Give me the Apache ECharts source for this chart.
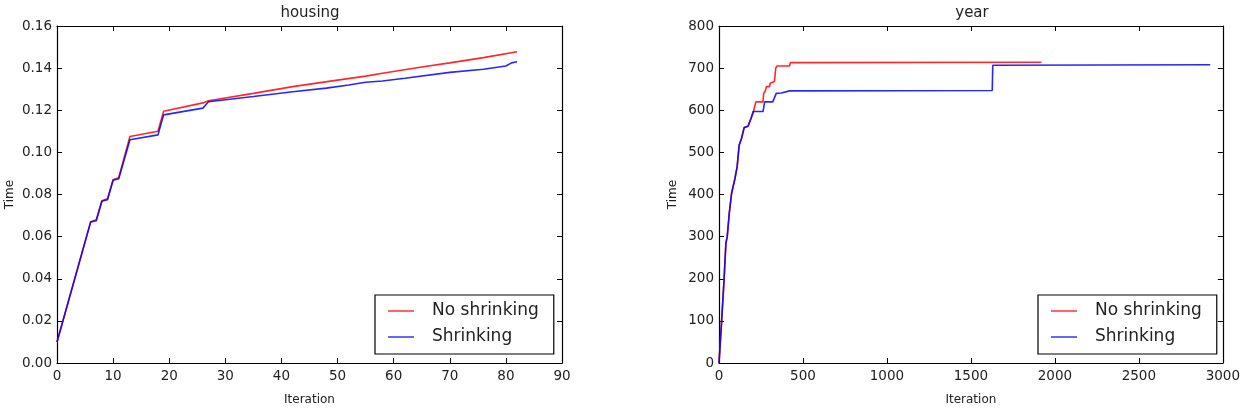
<!DOCTYPE html>
<html>
<head>
<meta charset="utf-8">
<script src="https://cdn.jsdelivr.net/npm/echarts@6/dist/echarts.min.js"></script>
<style>
html,body{margin:0;padding:0;background:#fff;}
#c{width:1243px;height:412px;}
</style>
</head>
<body>
<div id="c"></div>
<script>
// ---- housing (left) ----
var housingNoShrinkX = [0, 6, 7, 8, 9, 10, 11, 13, 18, 19, 26, 27, 35, 42, 50, 55, 58, 65, 70, 76, 82];
var housingNoShrinkY = [0.010, 0.067, 0.068, 0.077, 0.078, 0.087, 0.088, 0.1075, 0.110, 0.1195, 0.1235, 0.1245, 0.128, 0.1312, 0.1343, 0.1362, 0.1376, 0.1405, 0.1425, 0.145, 0.1478];
var housingShrinkX = [0, 6, 7, 8, 9, 10, 11, 13, 18, 19, 26, 27, 35, 42, 48, 52, 55, 58, 62, 70, 76, 80, 81, 82];
var housingShrinkY = [0.010, 0.067, 0.0675, 0.0768, 0.0775, 0.0868, 0.0875, 0.106, 0.1083, 0.1178, 0.121, 0.124, 0.1265, 0.1288, 0.1305, 0.132, 0.1333, 0.1339, 0.1352, 0.138, 0.1395, 0.141, 0.1425, 0.143];
// ---- year (right) ----
var yearNoShrinkX = [0, 16, 30, 41, 49, 61, 75, 95, 108, 120, 134, 150, 173, 190, 203, 219, 262, 266, 275, 282, 301, 305, 330, 338, 345, 420, 425, 1919];
var yearNoShrinkY = [0, 102, 197, 284, 300, 355, 403, 438, 466, 517, 533, 559, 562, 580, 593, 620, 620, 640, 645, 656, 656, 664, 668, 700, 705, 705, 713, 714];
var yearShrinkX = [0, 16, 30, 41, 49, 61, 75, 95, 108, 120, 134, 150, 173, 190, 203, 262, 272, 320, 341, 371, 420, 1627, 1630, 2925];
var yearShrinkY = [0, 102, 197, 284, 300, 355, 403, 438, 466, 517, 533, 559, 562, 580, 597, 597, 620, 620, 640, 641, 646, 647, 707, 708];

var titles = ['housing', 'year'];
var seriesNames = ['No shrinking', 'Shrinking'];
var xTicks = [{min: 0, max: 90, interval: 10}, {min: 0, max: 3000, interval: 500}];
var yTicks = [{min: 0, max: 0.16, interval: 0.02, dec: 2}, {min: 0, max: 800, interval: 100, dec: 0}];

function pairs(xs, ys) { return xs.map(function (x, i) { return [x, ys[i]]; }); }

var FONT = 'DejaVu Sans';
var TXT = '#222';
var grids = [
  {left: 57, top: 26, width: 505, height: 337},
  {left: 719, top: 26, width: 507, height: 337}
];

var xAxes = [], yAxes = [];
[0, 1].forEach(function (g) {
  var xt = xTicks[g], yt = yTicks[g];
  xAxes.push({
    type: 'value', gridIndex: g, position: 'bottom', min: xt.min, max: xt.max, interval: xt.interval,
    name: 'Iteration', nameLocation: 'middle', nameGap: 31,
    nameTextStyle: {fontFamily: FONT, fontSize: 12, color: TXT},
    axisLine: {show: true, onZero: false, lineStyle: {color: '#000', width: 1.2}},
    axisTick: {show: true, inside: true, length: 5, lineStyle: {color: '#000', width: 1}},
    axisLabel: {show: true, margin: 6, fontFamily: FONT, fontSize: 13.5, color: TXT,
      formatter: function (v) { return String(v); }},
    splitLine: {show: false}
  });
  xAxes.push({
    type: 'value', gridIndex: g, position: 'top', min: xt.min, max: xt.max, interval: xt.interval,
    axisLine: {show: true, onZero: false, lineStyle: {color: '#000', width: 1.2}},
    axisTick: {show: true, inside: true, length: 5, lineStyle: {color: '#000', width: 1}},
    axisLabel: {show: false}, splitLine: {show: false}
  });
  yAxes.push({
    type: 'value', gridIndex: g, position: 'left', min: yt.min, max: yt.max, interval: yt.interval,
    name: 'Time', nameLocation: 'middle', nameGap: g === 0 ? 41 : 40,
    nameTextStyle: {fontFamily: FONT, fontSize: 12, color: TXT},
    axisLine: {show: true, onZero: false, lineStyle: {color: '#000', width: 1.2}},
    axisTick: {show: true, inside: true, length: 5, lineStyle: {color: '#000', width: 1}},
    axisLabel: {show: true, margin: 5, fontFamily: FONT, fontSize: 13.5, color: TXT,
      formatter: (function (d) { return function (v) { return v.toFixed(d); }; })(yt.dec)},
    splitLine: {show: false}
  });
  yAxes.push({
    type: 'value', gridIndex: g, position: 'right', min: yt.min, max: yt.max, interval: yt.interval,
    axisLine: {show: true, onZero: false, lineStyle: {color: '#000', width: 1.2}},
    axisTick: {show: true, inside: true, length: 5, lineStyle: {color: '#000', width: 1}},
    axisLabel: {show: false}, splitLine: {show: false}
  });
});

function lineSeries(name, color, xi, yi, data) {
  return {
    name: name, type: 'line', xAxisIndex: xi, yAxisIndex: yi, data: data,
    showSymbol: false, symbol: 'none', animation: false,
    lineStyle: {color: color, width: 1.6, opacity: 0.85},
    itemStyle: {color: color}
  };
}

var series = [
  lineSeries(seriesNames[0], '#ff0000', 0, 0, pairs(housingNoShrinkX, housingNoShrinkY)),
  lineSeries(seriesNames[1], '#0000ff', 0, 0, pairs(housingShrinkX, housingShrinkY)),
  lineSeries(seriesNames[0], '#ff0000', 2, 2, pairs(yearNoShrinkX, yearNoShrinkY)),
  lineSeries(seriesNames[1], '#0000ff', 2, 2, pairs(yearShrinkX, yearShrinkY))
];

function legendAt(left) {
  return {
    data: seriesNames, orient: 'vertical', left: left, top: 295,
    padding: [7, 15, 8, 13], itemGap: 8, itemWidth: 26, itemHeight: 2, icon: 'rect',
    itemStyle: {opacity: 0.6},
    backgroundColor: '#fff', borderColor: '#000', borderWidth: 1.2, borderRadius: 0,
    textStyle: {fontFamily: FONT, fontSize: 17, color: TXT, lineHeight: 18, padding: [0, 0, 0, 13]},
    selectedMode: false
  };
}

var chart = echarts.init(document.getElementById('c'), null, {renderer: 'canvas'});
chart.setOption({
  backgroundColor: '#fff',
  animation: false,
  textStyle: {fontFamily: FONT},
  title: [
    {text: titles[0], left: 310, top: 6, textAlign: 'center', padding: 0,
     textStyle: {fontFamily: FONT, fontSize: 15, fontWeight: 'normal', color: TXT}},
    {text: titles[1], left: 972, top: 6, textAlign: 'center', padding: 0,
     textStyle: {fontFamily: FONT, fontSize: 15, fontWeight: 'normal', color: TXT}}
  ],
  grid: grids,
  xAxis: xAxes,
  yAxis: yAxes,
  legend: [legendAt(375), legendAt(1038)],
  series: series
});
</script>
</body>
</html>
